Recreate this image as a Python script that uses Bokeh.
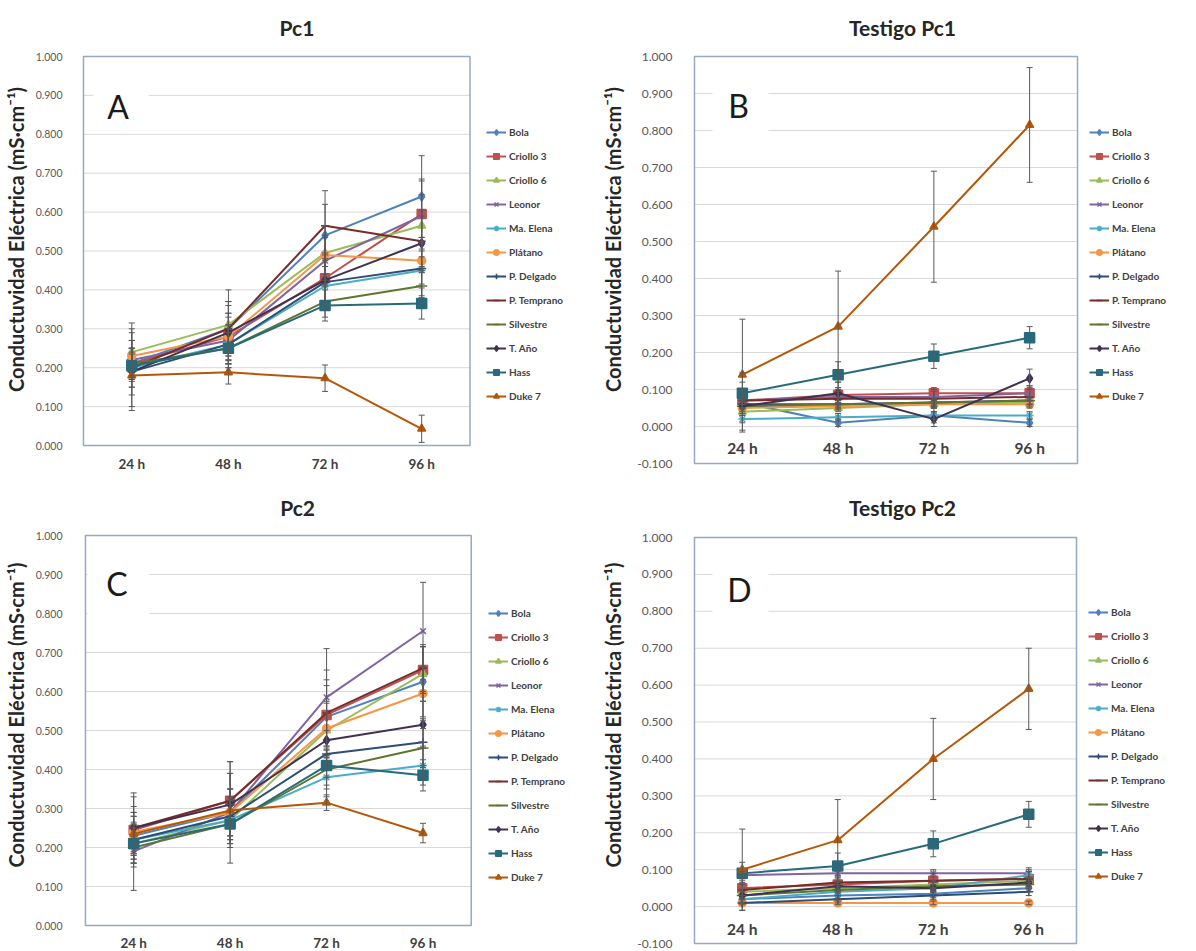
from bokeh.plotting import figure
from bokeh.models import (ColumnDataSource, Whisker, Legend, LegendItem, Label,
                          BoxAnnotation, FixedTicker, NumeralTickFormatter, Range1d)
from bokeh.layouts import column, row
from bokeh.embed import file_html
from bokeh.resources import INLINE
from bokeh.core.properties import value

# ---------------- data ----------------
TIMES = ["24 h", "48 h", "72 h", "96 h"]
CULTIVARS = ["Bola", "Criollo 3", "Criollo 6", "Leonor", "Ma. Elena", "Plátano",
             "P. Delgado", "P. Temprano", "Silvestre", "T. Año", "Hass", "Duke 7"]

PC1_MEAN = {
    "Bola": [0.210, 0.300, 0.540, 0.640],
    "Criollo 3": [0.210, 0.280, 0.430, 0.595],
    "Criollo 6": [0.240, 0.310, 0.495, 0.565],
    "Leonor": [0.220, 0.270, 0.475, 0.590],
    "Ma. Elena": [0.200, 0.260, 0.410, 0.450],
    "Plátano": [0.230, 0.280, 0.490, 0.475],
    "P. Delgado": [0.190, 0.260, 0.420, 0.455],
    "P. Temprano": [0.200, 0.300, 0.565, 0.525],
    "Silvestre": [0.210, 0.250, 0.370, 0.410],
    "T. Año": [0.190, 0.290, 0.425, 0.520],
    "Hass": [0.205, 0.250, 0.360, 0.365],
    "Duke 7": [0.180, 0.188, 0.173, 0.043],
}
PC1_ERR = {
    "Bola": [0.040, 0.060, 0.080, 0.105],
    "Criollo 3": [0.030, 0.050, 0.060, 0.090],
    "Criollo 6": [0.075, 0.090, 0.070, 0.080],
    "Leonor": [0.050, 0.070, 0.060, 0.090],
    "Ma. Elena": [0.100, 0.050, 0.050, 0.070],
    "Plátano": [0.040, 0.060, 0.050, 0.060],
    "P. Delgado": [0.060, 0.050, 0.060, 0.070],
    "P. Temprano": [0.050, 0.070, 0.090, 0.080],
    "Silvestre": [0.040, 0.050, 0.040, 0.050],
    "T. Año": [0.100, 0.080, 0.070, 0.070],
    "Hass": [0.030, 0.040, 0.040, 0.040],
    "Duke 7": [0.030, 0.030, 0.034, 0.035],
}
TPC1_MEAN = {
    "Bola": [0.065, 0.010, 0.030, 0.010],
    "Criollo 3": [0.070, 0.085, 0.090, 0.090],
    "Criollo 6": [0.040, 0.050, 0.060, 0.065],
    "Leonor": [0.070, 0.080, 0.080, 0.090],
    "Ma. Elena": [0.020, 0.025, 0.030, 0.030],
    "Plátano": [0.050, 0.055, 0.060, 0.060],
    "P. Delgado": [0.060, 0.060, 0.065, 0.070],
    "P. Temprano": [0.070, 0.075, 0.075, 0.080],
    "Silvestre": [0.055, 0.060, 0.065, 0.070],
    "T. Año": [0.055, 0.090, 0.020, 0.130],
    "Hass": [0.090, 0.140, 0.190, 0.240],
    "Duke 7": [0.140, 0.270, 0.540, 0.815],
}
TPC1_ERR = {
    "Bola": [0.080, 0.010, 0.020, 0.010],
    "Criollo 3": [0.020, 0.020, 0.015, 0.020],
    "Criollo 6": [0.010, 0.010, 0.010, 0.010],
    "Leonor": [0.020, 0.020, 0.020, 0.020],
    "Ma. Elena": [0.010, 0.010, 0.010, 0.010],
    "Plátano": [0.010, 0.010, 0.010, 0.010],
    "P. Delgado": [0.010, 0.010, 0.010, 0.010],
    "P. Temprano": [0.020, 0.020, 0.020, 0.020],
    "Silvestre": [0.010, 0.010, 0.010, 0.010],
    "T. Año": [0.020, 0.030, 0.020, 0.025],
    "Hass": [0.030, 0.035, 0.033, 0.030],
    "Duke 7": [0.150, 0.150, 0.150, 0.155],
}
PC2_MEAN = {
    "Bola": [0.230, 0.290, 0.535, 0.625],
    "Criollo 3": [0.245, 0.320, 0.540, 0.655],
    "Criollo 6": [0.210, 0.270, 0.500, 0.645],
    "Leonor": [0.190, 0.290, 0.585, 0.755],
    "Ma. Elena": [0.220, 0.270, 0.380, 0.410],
    "Plátano": [0.240, 0.290, 0.505, 0.595],
    "P. Delgado": [0.220, 0.280, 0.440, 0.470],
    "P. Temprano": [0.250, 0.320, 0.545, 0.660],
    "Silvestre": [0.200, 0.260, 0.400, 0.455],
    "T. Año": [0.250, 0.310, 0.475, 0.515],
    "Hass": [0.210, 0.260, 0.410, 0.385],
    "Duke 7": [0.235, 0.295, 0.315, 0.237],
}
PC2_ERR = {
    "Bola": [0.050, 0.060, 0.080, 0.090],
    "Criollo 3": [0.060, 0.070, 0.090, 0.060],
    "Criollo 6": [0.050, 0.060, 0.070, 0.070],
    "Leonor": [0.100, 0.130, 0.125, 0.125],
    "Ma. Elena": [0.040, 0.050, 0.050, 0.050],
    "Plátano": [0.050, 0.060, 0.070, 0.070],
    "P. Delgado": [0.060, 0.070, 0.060, 0.060],
    "P. Temprano": [0.080, 0.100, 0.110, 0.060],
    "Silvestre": [0.050, 0.060, 0.050, 0.050],
    "T. Año": [0.090, 0.080, 0.070, 0.060],
    "Hass": [0.040, 0.050, 0.050, 0.040],
    "Duke 7": [0.030, 0.030, 0.020, 0.025],
}
TPC2_MEAN = {
    "Bola": [0.020, 0.030, 0.035, 0.050],
    "Criollo 3": [0.050, 0.060, 0.070, 0.075],
    "Criollo 6": [0.040, 0.050, 0.060, 0.070],
    "Leonor": [0.085, 0.090, 0.090, 0.090],
    "Ma. Elena": [0.020, 0.040, 0.050, 0.085],
    "Plátano": [0.010, 0.010, 0.010, 0.010],
    "P. Delgado": [0.010, 0.020, 0.030, 0.040],
    "P. Temprano": [0.045, 0.065, 0.070, 0.075],
    "Silvestre": [0.030, 0.045, 0.055, 0.060],
    "T. Año": [0.030, 0.055, 0.050, 0.065],
    "Hass": [0.090, 0.110, 0.170, 0.250],
    "Duke 7": [0.100, 0.180, 0.400, 0.590],
}
TPC2_ERR = {
    "Bola": [0.010, 0.010, 0.010, 0.010],
    "Criollo 3": [0.020, 0.020, 0.020, 0.020],
    "Criollo 6": [0.010, 0.010, 0.010, 0.010],
    "Leonor": [0.010, 0.010, 0.010, 0.010],
    "Ma. Elena": [0.010, 0.010, 0.010, 0.020],
    "Plátano": [0.005, 0.005, 0.005, 0.005],
    "P. Delgado": [0.020, 0.010, 0.010, 0.010],
    "P. Temprano": [0.020, 0.020, 0.020, 0.020],
    "Silvestre": [0.010, 0.010, 0.010, 0.010],
    "T. Año": [0.010, 0.010, 0.010, 0.010],
    "Hass": [0.030, 0.035, 0.035, 0.035],
    "Duke 7": [0.110, 0.110, 0.110, 0.110],
}

# ---------------- styles ----------------
COLORS = ["#4F81BD", "#C0504D", "#9BBB59", "#8064A2", "#4BACC6", "#F79646",
          "#2C4D75", "#772C2A", "#5F7530", "#3F3151", "#276A7C", "#B65708"]
MARKERS = ["diamond", "square", "triangle", "x", "asterisk", "circle",
           "cross", "dash", "dash", "diamond", "square", "triangle"]
MSIZE = [9, 9, 8, 8, 8, 8, 9, 8, 11, 9, 10, 8]
FONT = "Lato"
YLABEL = "Conductuvidad Eléctrica (mS·cm⁻¹)"
BORDER = "#95A9C4"


def panel(title, letter, means, errs, ymin, fig, border_left, area, big, xlab_off,
          title_px, letter_px, gap_px, legend_px):
    fx0, fy0, fw, fh = fig            # figure placement on the page (px)
    l, r, t, b = area                 # plot-area edges on the page (px)
    fl = fx0 + border_left            # frame left; frame spans to the figure edges
    fr, ft, fb = fx0 + fw, fy0, fy0 + fh
    kx = (r - l) / 4.0
    ky = (b - t) / (1.0 - ymin)

    def px2x(px):
        return -0.5 + (px - l) / kx

    def px2y(py):
        return ymin + (b - py) / ky

    p = figure(width=fw, height=fh, x_range=Range1d(px2x(fl), px2x(fr)),
               y_range=Range1d(px2y(fb), px2y(ft)), output_backend="svg",
               toolbar_location=None, title=None, x_axis_location=None,
               min_border_left=border_left, min_border_right=0, min_border_top=0,
               min_border_bottom=0)
    p.background_fill_color = "white"
    p.border_fill_color = "white"
    p.outline_line_color = None
    p.grid.visible = False

    nt = int(round((1.0 - ymin) / 0.1))
    yt = [round(ymin + 0.1 * i, 1) for i in range(nt + 1)]
    p.yaxis.ticker = FixedTicker(ticks=yt)
    p.yaxis.bounds = (ymin, 1.0)
    p.yaxis.formatter = NumeralTickFormatter(format="0.000")
    p.yaxis.major_tick_line_color = None
    p.yaxis.minor_tick_line_color = None
    p.yaxis.axis_line_color = None
    p.yaxis.major_label_text_font = FONT
    p.yaxis.major_label_text_color = "#595959"
    p.yaxis.major_label_text_font_size = "12px" if big else "10.5px"
    p.yaxis.major_label_standoff = (l - fl) + (12 if big else 11)
    p.yaxis.axis_label = YLABEL
    p.yaxis.axis_label_text_font = FONT
    p.yaxis.axis_label_text_font_style = "bold"
    p.yaxis.axis_label_text_font_size = "20px"
    p.yaxis.axis_label_text_color = "#262626"
    p.yaxis.axis_label_standoff = 9 if big else 5

    # horizontal gridlines limited to the plot area
    p.segment(x0=[-0.5] * len(yt), x1=[3.5] * len(yt), y0=yt, y1=yt,
              line_color="#D9D9D9", line_width=1)
    # plot-area border
    p.quad(left=[-0.5], right=[3.5], bottom=[ymin], top=[1.0],
           fill_color=None, line_color=BORDER, line_width=1.5)

    # category labels: next to the 0 line (B, D) or below the plot area (A, C)
    xs = list(range(len(TIMES)))
    p.text(x=xs, y=[0.0] * len(xs), text=TIMES, text_align="center",
           text_baseline="middle", y_offset=xlab_off, text_font=value(FONT),
           text_font_style="bold", text_font_size="15.5px" if big else "13.5px",
           text_color="#404040")

    # white box behind the panel letter (breaks gridlines as in the original)
    gl, gr, gt, gb = gap_px
    p.add_layout(BoxAnnotation(left=px2x(gl), right=px2x(gr), bottom=px2y(gb),
                               top=px2y(gt), fill_color="white", fill_alpha=1.0,
                               line_color=None))

    items = []
    for i, name in enumerate(CULTIVARS):
        m = means[name]
        e = errs[name]
        src = ColumnDataSource(dict(x=xs, y=m,
                                    upper=[a + d for a, d in zip(m, e)],
                                    lower=[a - d for a, d in zip(m, e)]))
        w = Whisker(base="x", upper="upper", lower="lower", source=src,
                    line_color="#595959", line_width=1, level="glyph")
        w.upper_head.size = 6
        w.lower_head.size = 6
        w.upper_head.line_color = "#595959"
        w.lower_head.line_color = "#595959"
        p.add_layout(w)
    for i, name in enumerate(CULTIVARS):
        m = means[name]
        src = ColumnDataSource(dict(x=xs, y=m))
        c = COLORS[i]
        lr = p.line("x", "y", source=src, line_color=c, line_width=2)
        sr = p.scatter("x", "y", source=src, marker=MARKERS[i], size=MSIZE[i],
                       fill_color=c, line_color=c, line_width=1.5)
        items.append(LegendItem(label=name, renderers=[lr, sr]))

    # legend: box left edge / bottom edge given on the page in px
    lx, lb = legend_px
    leg = Legend(items=items, location=(lx - fl, fb - lb), label_text_font=FONT,
                 label_text_font_size="10px", label_text_font_style="bold",
                 label_text_color="#404040", glyph_width=20, glyph_height=14,
                 label_height=14, spacing=10, padding=5, margin=0,
                 label_standoff=3, border_line_color=None,
                 background_fill_alpha=0.0)
    p.add_layout(leg)

    p.add_layout(Label(x=px2x(title_px[0]), y=px2y(title_px[1]), text=title,
                       text_align="center", text_baseline="middle", text_font=FONT,
                       text_font_style="bold", text_font_size="21px",
                       text_color="#262626"))
    p.add_layout(Label(x=px2x(letter_px[0]), y=px2y(letter_px[1]), text=letter,
                       text_align="center", text_baseline="middle", text_font=FONT,
                       text_font_size="32px", text_color="#1A1A1A"))
    return p


pa = panel("Pc1", "A", PC1_MEAN, PC1_ERR, 0.0, (0, 0, 598, 478), 75,
           (77, 468, 56, 445), False, 18, (293, 27), (112, 106), (87, 143, 84, 102),
           (480, 403))
pb = panel("Testigo Pc1", "B", TPC1_MEAN, TPC1_ERR, -0.1, (598, 0, 598, 478), 94,
           (694, 1077, 56, 463), True, 21, (902, 27), (738, 105), (712, 768, 84, 140),
           (1089, 403))
pc = panel("Pc2", "C", PC2_MEAN, PC2_ERR, 0.0, (0, 478, 598, 473), 75,
           (78, 469, 535, 925), False, 17, (293, 507), (110, 583), (80, 143, 565, 622),
           (481, 884))
pd = panel("Testigo Pc2", "D", TPC2_MEAN, TPC2_ERR, -0.1, (598, 478, 598, 473), 94,
           (694, 1076, 537, 943), True, 22, (902, 507), (739, 589), (712, 768, 565, 620),
           (1088, 883))

layout = column(row(pa, pb), row(pc, pd))
open("out.html", "w").write(file_html(layout, INLINE))
